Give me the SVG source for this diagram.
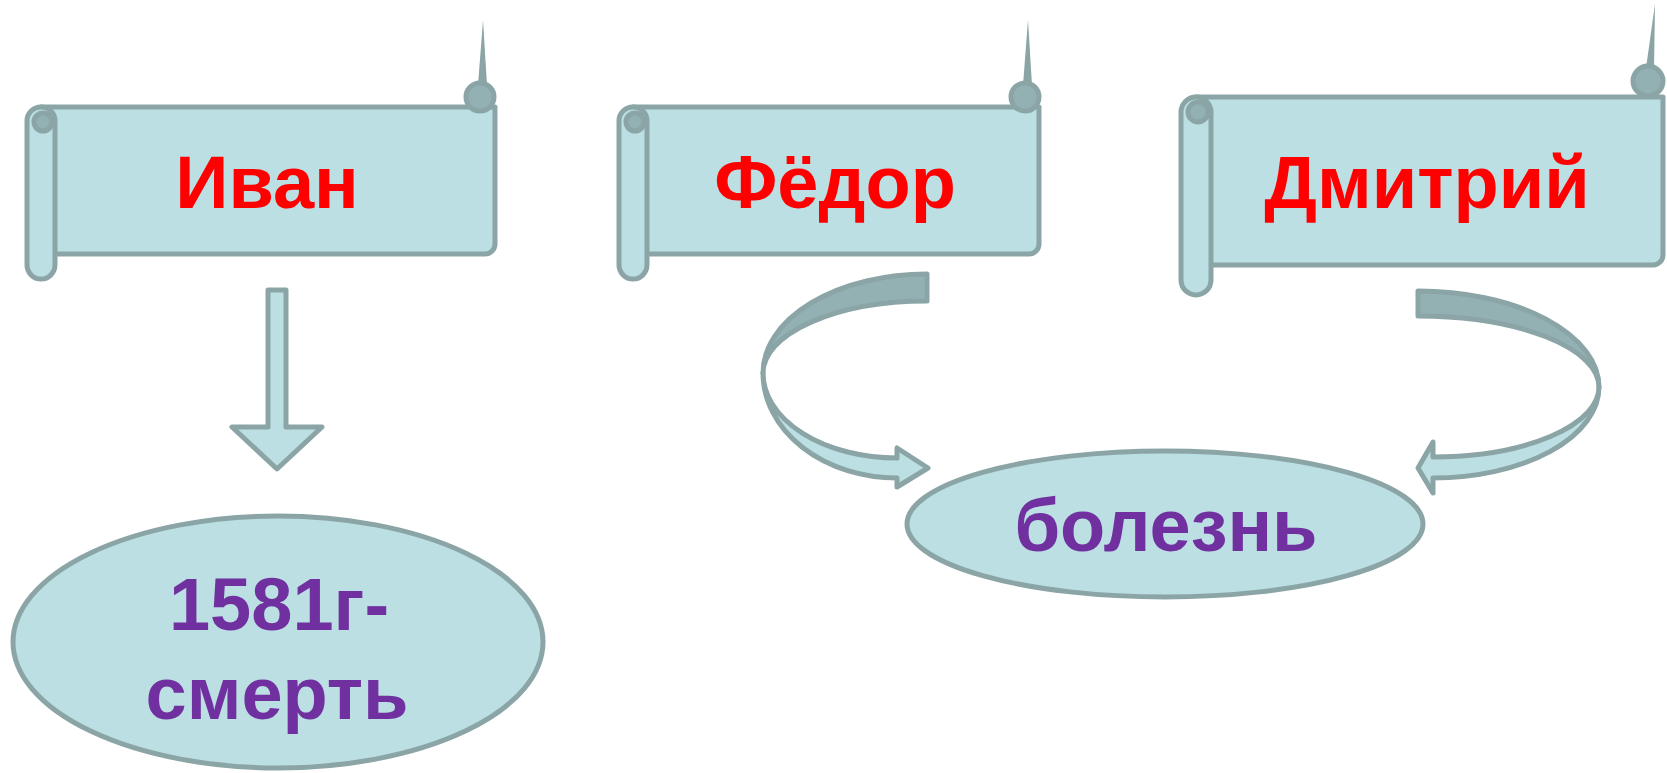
<svg xmlns="http://www.w3.org/2000/svg" width="1667" height="773" viewBox="0 0 1667 773">
<style>
.lt{fill:#BBDFE2;stroke:#8BA5A7;stroke-width:5;stroke-linejoin:round}
.dk{fill:#93B1B3;stroke:#8BA5A7;stroke-width:5;stroke-linejoin:round}
.sp{fill:#8BA5A7}
.nm{font-family:"Liberation Sans",Arial,sans-serif;font-weight:bold;font-size:74px;fill:#FF0000;text-anchor:middle}
.pl{font-family:"Liberation Sans",Arial,sans-serif;font-weight:bold;font-size:74px;fill:#7030A0;text-anchor:middle}
</style>
<rect width="1667" height="773" fill="#FFFFFF"/>

<g id="scroll-ivan">
  <polygon class="sp" points="478,85 483,20 487,85"/>
  <path class="lt" d="M41,107 H495 V244 A10,10 0 0 1 485,254 H41 Z"/>
  <rect class="lt" x="27" y="107" width="28" height="172" rx="14"/>
  <circle class="dk" cx="43" cy="122" r="9"/>
  <circle class="dk" cx="480" cy="97" r="14"/>
  <text class="nm" x="267" y="208">Иван</text>
</g>

<g id="scroll-fedor">
  <polygon class="sp" points="1023,85 1028,20 1032,85"/>
  <path class="lt" d="M633,107 H1039 V244 A10,10 0 0 1 1029,254 H633 Z"/>
  <rect class="lt" x="619" y="107" width="28" height="172" rx="14"/>
  <circle class="dk" cx="635" cy="122" r="9"/>
  <circle class="dk" cx="1025" cy="97" r="14"/>
  <text class="nm" x="835" y="208">Фёдор</text>
</g>

<g id="scroll-dmitriy">
  <polygon class="sp" points="1646,68 1655,4 1654,68"/>
  <path class="lt" d="M1196,97 H1663 V255 A10,10 0 0 1 1653,265 H1196 Z"/>
  <rect class="lt" x="1181" y="97" width="30" height="198" rx="15"/>
  <circle class="dk" cx="1198" cy="112" r="10"/>
  <circle class="dk" cx="1648" cy="81" r="15"/>
  <text class="nm" x="1427" y="208">Дмитрий</text>
</g>

<g id="ellipse-death">
  <ellipse class="lt" cx="278" cy="642" rx="265" ry="126"/>
  <text class="pl" x="279" y="630">1581г-</text>
  <text class="pl" x="277" y="719">смерть</text>
</g>

<g id="ellipse-illness">
  <ellipse class="lt" cx="1165" cy="524" rx="258" ry="73"/>
  <text class="pl" x="1166" y="551">болезнь</text>
</g>

<g id="connectors">
  <polygon class="lt" points="268,290 286,290 286,427 322,427 277,469 232,427 268,427"/>
  <path class="dk" d="M927,274 A164,99 0 0 0 763,373 A164,72 0 0 1 927,301 Z"/>
  <path class="lt" d="M763,373 A134,105 0 0 0 897,478 L897,487 L928,468 L897,448 L897,458 A134,85 0 0 1 763,373 Z"/>
  <path class="dk" d="M1418,291 A181,96 0 0 1 1599,387 A181,71 0 0 0 1418,316 Z"/>
  <path class="lt" d="M1599,387 A166,91 0 0 1 1433,478 L1433,493 L1418,468 L1433,442 L1433,457 A166,70 0 0 0 1599,387 Z"/>
</g>
</svg>
